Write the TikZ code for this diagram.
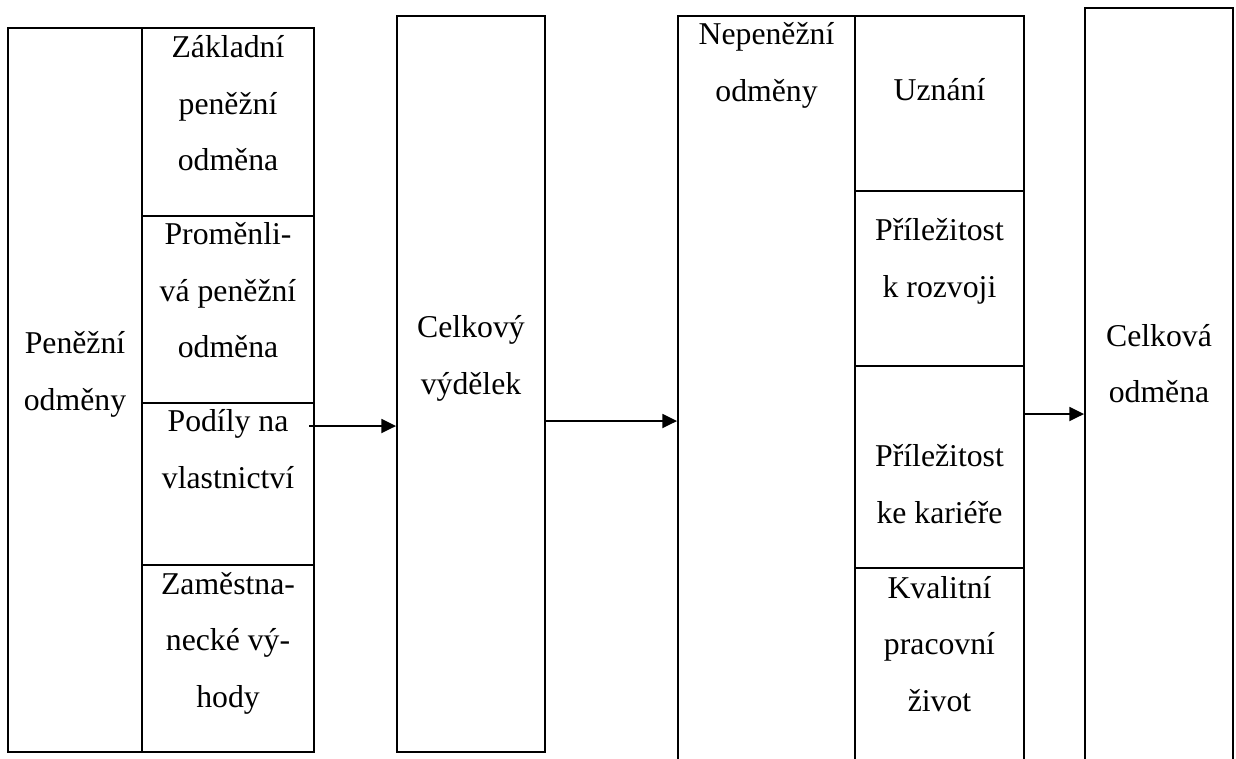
\documentclass[tikz,border=0pt]{standalone}
\usepackage{fontspec}
\setmainfont{Liberation Serif}
\usetikzlibrary{fit,arrows.meta}

\begin{document}
\begin{tikzpicture}[x=0.75pt,y=-0.75pt,
  cell/.style={draw=black,line width=1.4pt,inner sep=0pt},
  txt/.style={align=center,inner sep=0pt,
    font=\fontsize{23.8pt}{42.4pt}\selectfont,
    execute at begin node={\rule[-22pt]{0pt}{44pt}},
    execute at end node={\rule[-22pt]{0pt}{44pt}}},
  arr/.style={line width=1.4pt,-{Triangle[length=11pt,width=10.5pt]}}]

\useasboundingbox (0,0) rectangle (1236,758);
\clip (0,0) rectangle (1236,758);

% monetary rewards block
\node[cell,fit={(8,28) (142,752)}]    (pen) {};
\node[cell,fit={(142,28) (314,216)}]  (zak) {};
\node[cell,fit={(142,216) (314,403)}] (pro) {};
\node[cell,fit={(142,403) (314,565)}] (pod) {};
\node[cell,fit={(142,565) (314,752)}] (zam) {};

% total earnings
\node[cell,fit={(397,16) (545,752)}]  (vyd) {};

% non-monetary rewards block (runs past the lower edge)
\node[cell,fit={(678,16) (855,800)}]   (nep) {};
\node[cell,fit={(855,16) (1024,191)}]  (uzn) {};
\node[cell,fit={(855,191) (1024,366)}] (roz) {};
\node[cell,fit={(855,366) (1024,568)}] (kar) {};
\node[cell,fit={(855,568) (1024,800)}] (kva) {};

% total reward
\node[cell,fit={(1085,8) (1233,800)}]  (cel) {};

% labels
\node[txt] (tpen) at (75,385.5)  {Peněžní\\odměny};
\node[txt] (tzak) at (228,118)   {Základní\\peněžní\\odměna};
\node[txt] (tpro) at (228,305)   {Proměnli-\\vá peněžní\\odměna};
\node[txt] (tpod) at (228,463.5) {Podíly na\\vlastnictví};
\node[txt] (tzam) at (228,654.5) {Zaměstna-\\necké vý-\\hody};
\node[txt] (tvyd) at (471,369.5) {Celkový\\výdělek};
\node[txt] (tnep) at (766.5,76.5) {Nepeněžní\\odměny};
\node[txt] (tuzn) at (939.5,100)   {Uznání};
\node[txt] (troz) at (939.5,272.5) {Příležitost\\k rozvoji};
\node[txt] (tkar) at (939.5,498.5) {Příležitost\\ke kariéře};
\node[txt] (tkva) at (939.5,658.5) {Kvalitní\\pracovní\\život};
\node[txt] (tcel) at (1159,378)   {Celková\\odměna};

% connectors
\coordinate (s1) at (309,426);
\coordinate (l2) at (0,421);
\coordinate (l3) at (0,414);
\draw[arr] (s1) -- (s1 -| vyd.west);
\draw[arr] (vyd.east |- l2) -- (nep.west |- l2);
\draw[arr] (uzn.east |- l3) -- (cel.west |- l3);
\end{tikzpicture}
\end{document}
